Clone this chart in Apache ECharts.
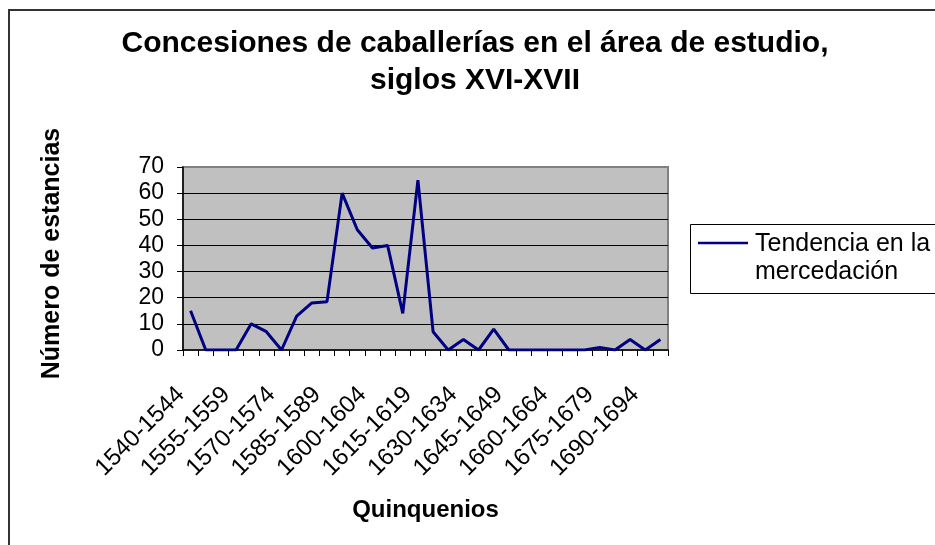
<!DOCTYPE html>
<html>
<head>
<meta charset="utf-8">
<script src="https://cdn.jsdelivr.net/npm/echarts@6/dist/echarts.min.js"></script>
<style>
html,body{margin:0;padding:0;background:#fff;}
#chart{width:935px;height:545px;}
</style>
</head>
<body>
<div id="chart"></div>
<script>
const categories = ['1540-1544','1545-1549','1550-1554','1555-1559','1560-1564','1565-1569','1570-1574','1575-1579','1580-1584','1585-1589','1590-1594','1595-1599','1600-1604','1605-1609','1610-1614','1615-1619','1620-1624','1625-1629','1630-1634','1635-1639','1640-1644','1645-1649','1650-1654','1655-1659','1660-1664','1665-1669','1670-1674','1675-1679','1680-1684','1685-1689','1690-1694','1695-1699'];
const tendencia = [15,0,0,0,10,7,0,13,18,18.5,60,46,39,40,14,65,7,0,4,0,8,0,0,0,0,0,0,1,0,4,0,4];
const seriesName = 'Tendencia en la mercedación';
const titleText = 'Concesiones de caballerías en el área de estudio,\nsiglos XVI-XVII';
const yName = 'Número de estancias';
const xName = 'Quinquenios';
const legendLines = ['Tendencia en la', 'mercedación'];

const FONT = '"Liberation Sans", Arial, sans-serif';
const chart = echarts.init(document.getElementById('chart'), null, {renderer: 'canvas'});
chart.setOption({
  animation: false,
  backgroundColor: '#ffffff',
  title: {
    text: titleText,
    left: 475,
    top: 25,
    padding: 0,
    textAlign: 'center',
    textStyle: {fontFamily: FONT, fontSize: 30, fontWeight: 'bold', color: '#000', lineHeight: 37}
  },
  grid: {
    left: 183, right: 267, top: 167, bottom: 195,
    show: true, backgroundColor: '#c0c0c0', borderColor: '#808080', borderWidth: 2
  },
  xAxis: {
    type: 'category',
    data: categories,
    boundaryGap: true,
    name: xName,
    nameLocation: 'middle',
    nameGap: 148,
    nameTextStyle: {fontFamily: FONT, fontSize: 24, fontWeight: 'bold', color: '#000'},
    axisLine: {show: true, lineStyle: {color: '#000', width: 1.5}},
    axisTick: {show: true, interval: 0, length: 6, lineStyle: {color: '#000', width: 1}},
    axisLabel: {interval: 2, rotate: 45, margin: 31, padding: [0, 14, 0, 0], fontFamily: FONT, fontSize: 24, color: '#000'},
    splitLine: {show: false}
  },
  yAxis: {
    type: 'value',
    min: 0, max: 70, interval: 10,
    name: yName,
    nameLocation: 'middle',
    nameRotate: 90,
    nameGap: 118,
    nameTextStyle: {fontFamily: FONT, fontSize: 25, fontWeight: 'bold', color: '#000', padding: [0, 0, 0, 10]},
    axisLine: {show: true, lineStyle: {color: '#000', width: 1.5}},
    axisTick: {show: true, length: 6, lineStyle: {color: '#000', width: 1}},
    axisLabel: {margin: 19, fontFamily: FONT, fontSize: 23, color: '#000'},
    splitLine: {show: true, showMinLine: false, showMaxLine: false, lineStyle: {color: '#000', width: 1}}
  },
  series: [{
    name: seriesName,
    type: 'line',
    data: tendencia,
    symbol: 'none',
    showSymbol: false,
    lineStyle: {color: '#000080', width: 3},
    itemStyle: {color: '#000080'}
  }],
  graphic: [
    {type: 'polyline', shape: {points: [[9, 600], [9, 10], [1000, 10]]}, style: {stroke: '#333', lineWidth: 2, fill: null}},
    {type: 'rect', shape: {x: 690.5, y: 224.5, width: 270, height: 69}, style: {stroke: '#000', lineWidth: 1, fill: '#fff'}},
    {type: 'line', shape: {x1: 698, y1: 243, x2: 748, y2: 243}, style: {stroke: '#000080', lineWidth: 2.5}},
    {type: 'text', x: 755, y: 244, style: {text: legendLines[0], font: '25px ' + FONT, fill: '#000', verticalAlign: 'middle', align: 'left'}},
    {type: 'text', x: 755, y: 272, style: {text: legendLines[1], font: '25px ' + FONT, fill: '#000', verticalAlign: 'middle', align: 'left'}}
  ]
});
</script>
</body>
</html>
